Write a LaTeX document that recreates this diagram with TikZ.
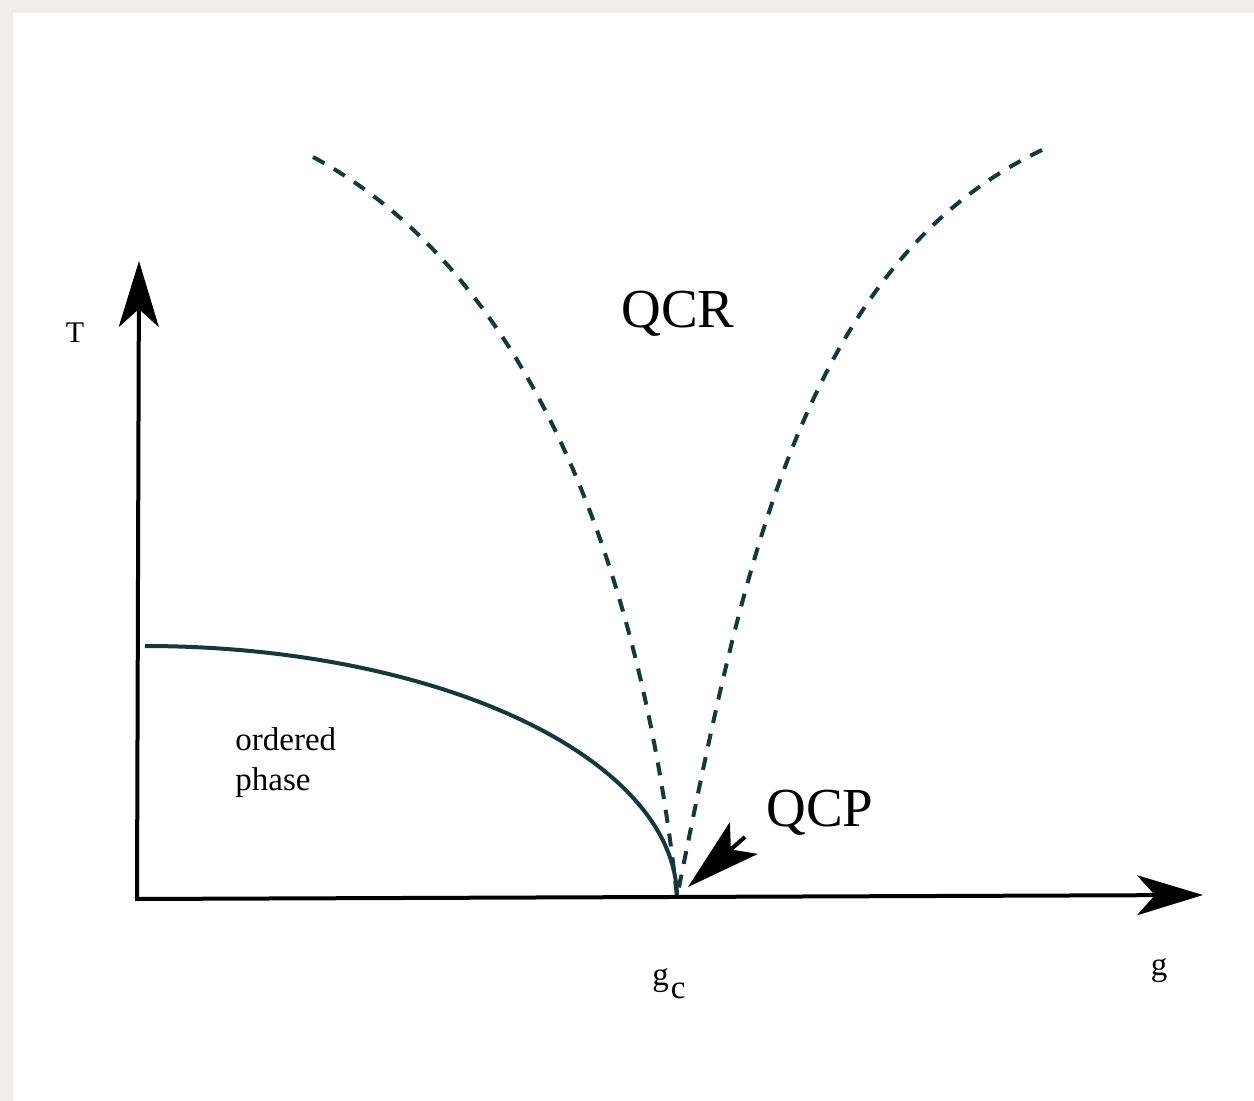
\documentclass[tikz,border=0pt]{standalone}
\usepackage{fontspec}
\setmainfont{Liberation Serif}
\usetikzlibrary{arrows.meta}
\definecolor{paper}{HTML}{F0EEE8}
\definecolor{curvecol}{HTML}{14393B}
\begin{document}
\begin{tikzpicture}[x=0.5pt,y=-0.5pt,
  axis/.style={line width=2pt, black, -{Stealth[length=33pt,width=20pt,inset=9pt]}},
  phaseline/.style={line width=2pt, curvecol},
  crossover/.style={line width=2pt, curvecol, dash pattern=on 6.5pt off 5.5pt},
  pointer/.style={line width=2pt, black, -{Stealth[length=37pt,width=21pt,inset=8.5pt]}},
  lab/.style={inner sep=0pt, font=\fontsize{16.5}{20}\selectfont},
  biglab/.style={inner sep=0pt, font=\fontsize{27.5}{33}\selectfont}]
\useasboundingbox (0,0) rectangle (1254,1101);
\fill[paper] (0,0) rectangle (1254,1101);
\fill[white] (13,13) rectangle (1254,1101);
% named points
\coordinate (yb) at (137,899);
\coordinate (ytip) at (139,261);
\coordinate (xb) at (135,899);
\coordinate (xtip) at (1203,895);
\coordinate (qcp) at (677,897);
\coordinate (ls) at (313,157);
\coordinate (rs) at (1042,150);
\coordinate (ptail) at (745,837);
\coordinate (phead) at (688,887);
% crossover lines
\draw[crossover] (ls) .. controls (545,282) and (645,600) .. (qcp);
\draw[crossover] (rs) .. controls (800,265) and (742,575) .. (qcp);
% ordered phase boundary
\draw[phaseline] plot[domain=-90:0, samples=80, smooth] ({145+532*cos(\x)}, {898+252*sin(\x)});
% axes
\draw[axis] (yb) -- (ytip);
\draw[axis] (xb) -- (xtip);
% QCP pointer
\draw[pointer] (ptail) -- (phead);
% labels
\node[lab, font=\fontsize{15}{18}\selectfont, anchor=base] (T) at (75,343) {T};
\node[biglab, anchor=base] (qcr) at (678,328) {QCR};
\node[biglab, anchor=base west] (qcpl) at (766,826) {QCP};
\node[lab, anchor=base west] (ord) at (235,750) {ordered};
\node[lab, anchor=base west] (pha) at (235,790) {phase};
\node[lab, anchor=base west] (gc) at (652,985) {g\kern1pt\raisebox{-6.5pt}{c}};
\node[lab, anchor=base] (g) at (1159,975) {g};
\end{tikzpicture}
\end{document}
